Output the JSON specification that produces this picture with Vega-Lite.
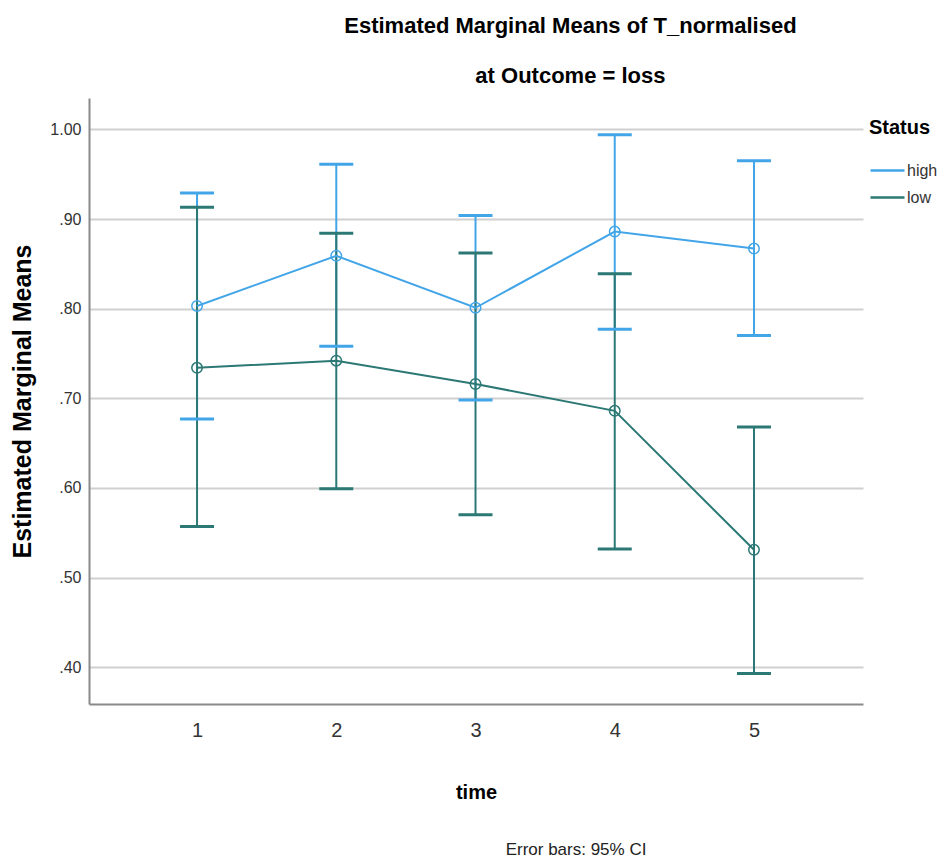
{
  "$schema": "https://vega.github.io/schema/vega-lite/v6.json",
  "background": "white",
  "padding": {"left": 10, "top": 15, "right": 5, "bottom": 5},
  "config": {
    "font": "Liberation Sans",
    "view": {"stroke": null},
    "concat": {"spacing": 0}
  },
  "title": {
    "text": ["Estimated Marginal Means of T_normalised", "at Outcome = loss"],
    "font": "Liberation Sans",
    "fontSize": 22,
    "fontWeight": "bold",
    "lineHeight": 50,
    "anchor": "middle",
    "dx": 96,
    "offset": 10,
    "color": "#000000"
  },
  "vconcat": [
    {
      "width": 774,
      "height": 606,
      "title": {
        "text": "Error bars: 95% CI",
        "orient": "bottom",
        "font": "Liberation Sans",
        "fontSize": 17,
        "fontWeight": "normal",
        "anchor": "middle",
        "dx": 100,
        "offset": 40,
        "color": "#222222"
      },
      "data": {
        "values": [
          {"time": 1, "Status": "high", "mean": 0.803, "lower": 0.677, "upper": 0.929},
          {"time": 2, "Status": "high", "mean": 0.859, "lower": 0.758, "upper": 0.961},
          {"time": 3, "Status": "high", "mean": 0.801, "lower": 0.698, "upper": 0.904},
          {"time": 4, "Status": "high", "mean": 0.886, "lower": 0.777, "upper": 0.994},
          {"time": 5, "Status": "high", "mean": 0.867, "lower": 0.770, "upper": 0.965},
          {"time": 1, "Status": "low", "mean": 0.734, "lower": 0.557, "upper": 0.913},
          {"time": 2, "Status": "low", "mean": 0.742, "lower": 0.599, "upper": 0.884},
          {"time": 3, "Status": "low", "mean": 0.716, "lower": 0.570, "upper": 0.862},
          {"time": 4, "Status": "low", "mean": 0.686, "lower": 0.532, "upper": 0.839},
          {"time": 5, "Status": "low", "mean": 0.531, "lower": 0.393, "upper": 0.668}
        ]
      },
      "encoding": {
        "x": {
          "field": "time",
          "type": "quantitative",
          "scale": {"domain": [0.224, 5.783], "nice": false, "zero": false},
          "axis": {
            "title": "time",
            "values": [1, 2, 3, 4, 5],
            "format": "d",
            "grid": false,
            "ticks": false,
            "labelFont": "Liberation Sans",
            "labelFontSize": 20,
            "labelColor": "#333333",
            "labelPadding": 16,
            "domainColor": "#8a8a8a",
            "domainWidth": 2,
            "titleFont": "Liberation Sans",
            "titleFontSize": 20,
            "titleFontWeight": "bold",
            "titleColor": "#000000",
            "titlePadding": 42
          }
        },
        "color": {
          "field": "Status",
          "type": "nominal",
          "scale": {"domain": ["high", "low"], "range": ["#42a5e8", "#2b7874"]},
          "legend": {
            "title": "Status",
            "orient": "none",
            "legendX": 780,
            "legendY": 20,
            "symbolType": "stroke",
            "symbolSize": 1156,
            "symbolStrokeWidth": 2.5,
            "titleFont": "Liberation Sans",
            "titleFontSize": 20,
            "titleFontWeight": "bold",
            "titleColor": "#000000",
            "titlePadding": 14,
            "labelFont": "Liberation Sans",
            "labelFontSize": 16,
            "labelColor": "#333333",
            "labelOffset": 1,
            "rowPadding": -2
          }
        }
      },
      "layer": [
        {
          "mark": {"type": "rule", "strokeWidth": 2},
          "encoding": {
            "y": {
              "field": "lower",
              "type": "quantitative",
              "scale": {"domain": [0.359, 1.035], "nice": false, "zero": false},
              "axis": {
                "title": "Estimated Marginal Means",
                "values": [0.4, 0.5, 0.6, 0.7, 0.8, 0.9, 1.0],
                "labelExpr": "datum.value >= 1 ? format(datum.value, '.2f') : slice(format(datum.value, '.2f'), 1)",
                "grid": true,
                "gridColor": "#d0d0d0",
                "gridWidth": 2,
                "ticks": false,
                "labelFont": "Liberation Sans",
                "labelFontSize": 16,
                "labelColor": "#333333",
                "labelPadding": 8,
                "domainColor": "#8a8a8a",
                "domainWidth": 2,
                "titleFont": "Liberation Sans",
                "titleFontSize": 25,
                "titleFontWeight": "bold",
                "titleColor": "#000000",
                "titlePadding": 14
              }
            },
            "y2": {"field": "upper"}
          }
        },
        {
          "mark": {"type": "tick", "orient": "horizontal", "size": 34, "thickness": 3, "opacity": 1},
          "encoding": {"y": {"field": "upper", "type": "quantitative"}}
        },
        {
          "mark": {"type": "tick", "orient": "horizontal", "size": 34, "thickness": 3, "opacity": 1},
          "encoding": {"y": {"field": "lower", "type": "quantitative"}}
        },
        {
          "mark": {"type": "line", "strokeWidth": 2},
          "encoding": {"y": {"field": "mean", "type": "quantitative"}}
        },
        {
          "mark": {"type": "point", "shape": "circle", "filled": false, "size": 110, "strokeWidth": 1.5, "opacity": 1},
          "encoding": {"y": {"field": "mean", "type": "quantitative"}}
        }
      ]
    }
  ]
}
